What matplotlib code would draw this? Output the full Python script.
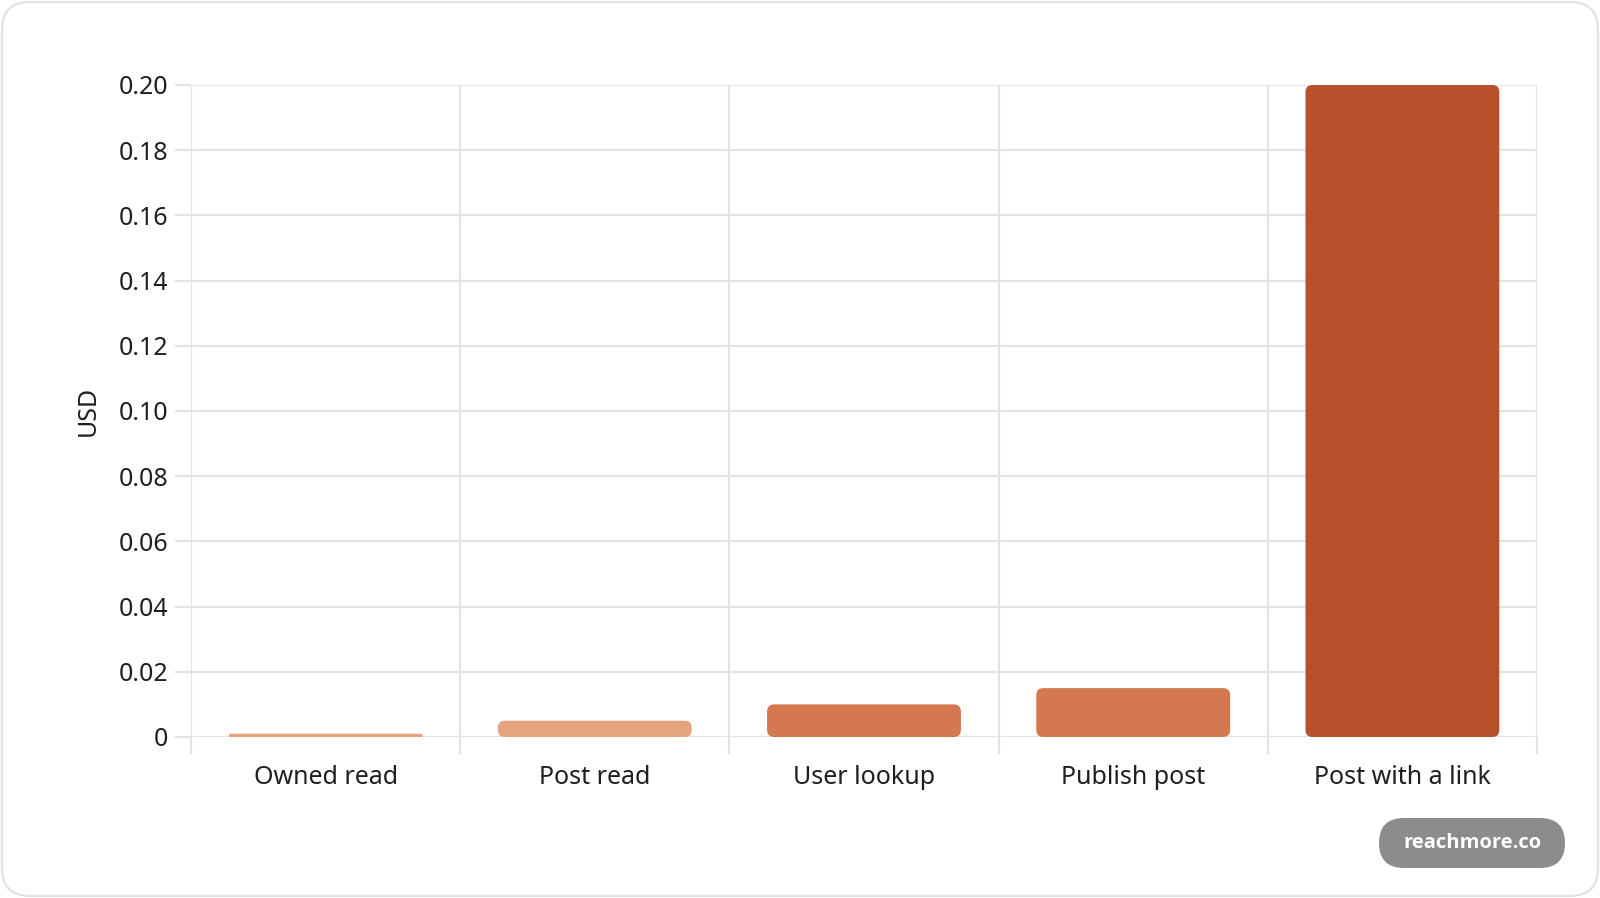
import matplotlib
matplotlib.use("Agg")
import matplotlib.pyplot as plt
from matplotlib.patches import FancyBboxPatch
from matplotlib.transforms import IdentityTransform

plt.rcParams['font.family'] = ['Noto Sans', 'DejaVu Sans']

categories = ['Owned read', 'Post read', 'User lookup', 'Publish post', 'Post with a link']
cost_usd = [0.001, 0.005, 0.010, 0.015, 0.200]
bar_colors = ['#E6A47E', '#E6A47E', '#D4794F', '#D4794F', '#B9502C']
yticks = [0, 0.02, 0.04, 0.06, 0.08, 0.10, 0.12, 0.14, 0.16, 0.18, 0.20]
ytick_labels = ['0', '0.02', '0.04', '0.06', '0.08', '0.10', '0.12', '0.14', '0.16', '0.18', '0.20']

W, H = 1600, 898
fig = plt.figure(figsize=(W / 100, H / 100), dpi=100)
fig.patch.set_facecolor('white')
px = IdentityTransform()  # display pixels, origin bottom-left

# card outline
card = FancyBboxPatch((2, 2), W - 4, H - 4,
                      boxstyle='round,pad=0,rounding_size=28',
                      transform=px, fc='none', ec='#e2e2e2', lw=1.6, zorder=-10)
fig.patches.append(card)

left, right, top, bottom = 191 / W, 1537 / W, 1 - 85 / H, 1 - 737 / H
ax = fig.add_axes([left, bottom, right - left, top - bottom])
ax.set_facecolor('none')

n = len(categories)
ax.set_xlim(-0.5, n - 0.5)
ax.set_ylim(0, 0.2)

# grid
grid_c = '#e3e3e3'
for y in yticks:
    ax.axhline(y, color=grid_c, lw=1.5, zorder=0)
for i in range(n + 1):
    ax.axvline(i - 0.5, color=grid_c, lw=1.5, zorder=0)

# rounded bars
ax_w_px = (right - left) * W
ax_h_px = (top - bottom) * H
px_x = n / ax_w_px
px_y = 0.2 / ax_h_px
bar_w = 0.72
for i, (v, c) in enumerate(zip(cost_usd, bar_colors)):
    h_px = v / px_y
    r_px = min(7, h_px / 2)
    rx = r_px * px_x
    ry = r_px * px_y
    patch = FancyBboxPatch((i - bar_w / 2, 0), bar_w, v,
                           boxstyle=f'round,pad=0,rounding_size={rx}',
                           mutation_aspect=ry / rx,
                           fc=c, ec='none', zorder=3)
    ax.add_patch(patch)

for s in ax.spines.values():
    s.set_visible(False)

ax.set_yticks(yticks)
ax.set_yticklabels(ytick_labels)
ax.set_xticks(range(n))
ax.set_xticklabels(categories)
# tick length / pad are in points (1 pt = 1.39 px here)
ax.tick_params(axis='y', length=11.5, width=1.5, color=grid_c, pad=5,
               labelsize=18, labelcolor='#1f1f1f')
ax.tick_params(axis='x', length=0, pad=20.5, labelsize=18, labelcolor='#1f1f1f')
# downward ticks at category boundaries
for i in range(n + 1):
    ax.plot([i - 0.5, i - 0.5], [0, -16 * px_y], color=grid_c, lw=1.5,
            clip_on=False, zorder=0)

ax.set_ylabel('USD', fontsize=18, color='#1f1f1f', labelpad=13)

# watermark pill
pill_x0, pill_x1, pill_y0, pill_y1 = 1379, 1565, 818, 868
pill = FancyBboxPatch((pill_x0, H - pill_y1), pill_x1 - pill_x0, pill_y1 - pill_y0,
                      boxstyle='round,pad=0,rounding_size=25',
                      transform=px, fc='#8c8c8c', ec='none')
fig.patches.append(pill)
fig.text((pill_x0 + pill_x1) / 2 / W, 1 - (pill_y0 + pill_y1) / 2 / H, 'reachmore.co',
         color='white', fontsize=14.5, fontweight='bold', family=['Open Sans', 'DejaVu Sans'],
         ha='center', va='center')

fig.savefig('out.png', dpi=100, facecolor='white')
